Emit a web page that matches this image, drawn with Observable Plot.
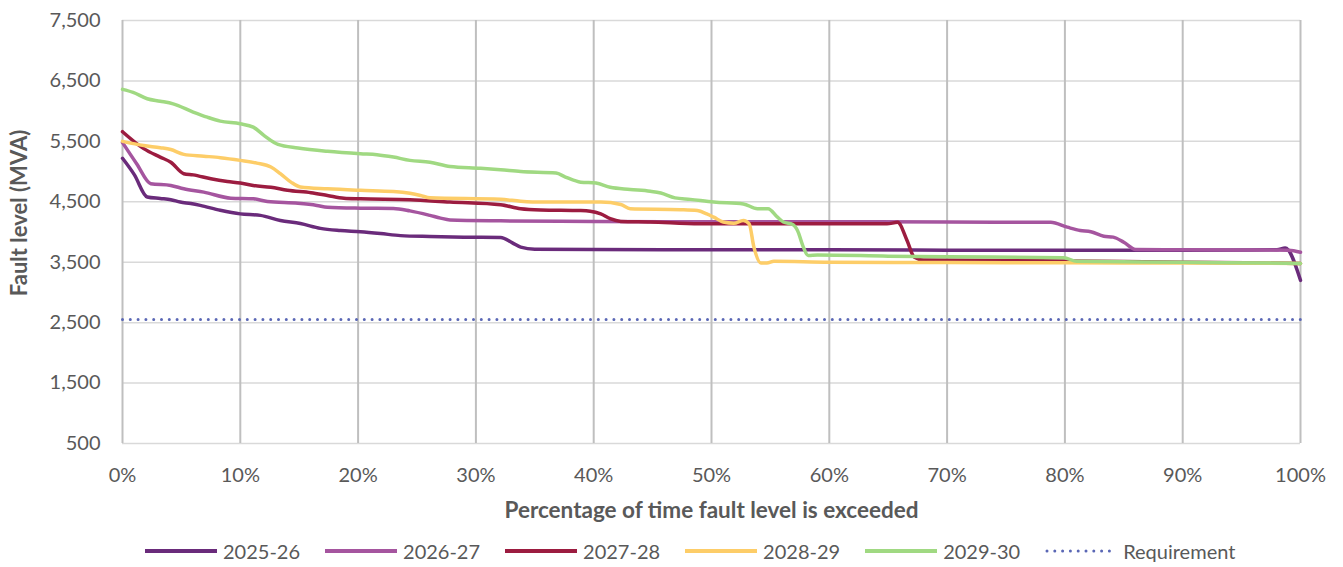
<!DOCTYPE html>
<html>
<head>
<meta charset="utf-8">
<script src="https://cdn.jsdelivr.net/npm/d3@7"></script>
<script src="https://cdn.jsdelivr.net/npm/@observablehq/plot@0.6"></script>
<style>
  html, body { margin: 0; padding: 0; background: #fff; }
  #chart svg { display: block; }
  .legend { display: flex; align-items: center; height: 32px; padding-left: 145px; font-family: Lato, sans-serif; font-size: 20px; color: #595959; }
  .legend .item { display: flex; align-items: center; margin-right: 25px; }
  .legend svg { margin-right: 6px; }
</style>
</head>
<body>
<div id="chart"></div>
<div class="legend" id="legend"></div>
<script>
const seriesNames = ["2025-26", "2026-27", "2027-28", "2028-29", "2029-30"];
const seriesColors = ["#6a2b7b", "#a5559f", "#9c1c40", "#fdcd68", "#a0d982"];
const requirementColor = "#5a67b5";

const x2025 = [0, 1, 2.1, 3.2, 4.1, 4.9, 5.8, 6.6, 8.3, 10, 11.7, 13.4, 15.1, 16.8, 18.5, 20.2, 21.9, 23.6, 26.1, 29, 32.1, 33.1, 33.8, 35, 40, 50, 60, 70, 80, 90, 98, 98.7, 100];
const y2025 = [5220, 4950, 4580, 4555, 4535, 4495, 4470, 4440, 4360, 4300, 4275, 4190, 4140, 4060, 4025, 4005, 3975, 3940, 3925, 3915, 3910, 3820, 3750, 3715, 3710, 3705, 3705, 3700, 3700, 3700, 3705, 3735, 3200];

const x2026 = [0, 1.2, 2.4, 4.1, 5.2, 6.9, 9.2, 11.1, 12.3, 14.9, 16.5, 17.4, 20.2, 23, 24.4, 26.1, 27, 27.8, 32.1, 40, 50, 60, 70, 78.8, 80.2, 81.3, 82.2, 83.3, 84.1, 85, 86, 90, 99, 100];
const y2026 = [5480, 5130, 4800, 4770, 4715, 4660, 4560, 4550, 4505, 4475, 4440, 4410, 4395, 4390, 4350, 4275, 4230, 4200, 4185, 4175, 4170, 4170, 4165, 4160, 4080, 4025, 4005, 3930, 3915, 3830, 3710, 3705, 3700, 3665];

const x2027 = [0, 1.8, 3.2, 4.1, 5.2, 6, 7.5, 8.9, 10, 11.1, 12.6, 14, 16, 17.4, 18.8, 20.2, 24.4, 27.8, 32.1, 33.8, 35.5, 38.9, 39.7, 40.6, 41.4, 42.3, 44.8, 49, 55, 60, 64.9, 65.8, 66.6, 67.2, 68, 75, 80, 90, 100];
const y2027 = [5660, 5380, 5240, 5155, 4965, 4945, 4880, 4835, 4810, 4770, 4740, 4690, 4650, 4605, 4560, 4550, 4535, 4495, 4450, 4385, 4365, 4355, 4345, 4300, 4220, 4175, 4165, 4135, 4135, 4135, 4135, 4160, 3860, 3585, 3535, 3530, 3520, 3500, 3480];

const x2028 = [0, 1.8, 3.2, 4.1, 5.2, 6.9, 8.3, 10, 11.4, 12.6, 13.4, 14.3, 15.1, 17.4, 20.2, 23, 24.4, 25.3, 26.1, 32.1, 33.8, 35.5, 40.6, 42.3, 43.1, 47.4, 48.8, 49.6, 50.2, 51, 51.9, 52.7, 53.2, 53.6, 54.2, 54.7, 55.3, 60, 70, 80, 90, 100];
const y2028 = [5500, 5430, 5395, 5365, 5285, 5255, 5230, 5185, 5140, 5075, 4965, 4825, 4745, 4715, 4690, 4670, 4640, 4605, 4565, 4540, 4510, 4495, 4495, 4455, 4385, 4370, 4355, 4300, 4245, 4165, 4145, 4190, 4135, 3750, 3485, 3485, 3515, 3500, 3495, 3490, 3485, 3480];

const x2029 = [0, 0.9, 2.1, 3.2, 4.3, 6, 7.2, 8.3, 10, 11.1, 12, 13.2, 14.9, 17.4, 20.2, 21.6, 23, 24.4, 26.1, 27.8, 30.4, 32.1, 33.8, 36.8, 37.6, 38.9, 40.2, 41.4, 43.1, 44.8, 45.7, 46.9, 48.2, 50.2, 52.7, 53.9, 54.8, 55.6, 56.1, 56.9, 57.3, 57.8, 58.2, 59, 65, 70, 79.9, 81, 90, 100];
const y2029 = [6360, 6310, 6205, 6165, 6120, 5985, 5900, 5835, 5790, 5735, 5600, 5450, 5390, 5335, 5295, 5280, 5240, 5185, 5155, 5085, 5055, 5030, 5000, 4975, 4910, 4825, 4810, 4740, 4705, 4675, 4645, 4565, 4540, 4495, 4465, 4385, 4385, 4245, 4165, 4125, 4025, 3750, 3610, 3620, 3600, 3590, 3575, 3515, 3500, 3480];

const requirementX = [0, 100];
const requirementValue = 2550;

const xTicks = [0, 10, 20, 30, 40, 50, 60, 70, 80, 90, 100];
const yTicks = [500, 1500, 2500, 3500, 4500, 5500, 6500, 7500];
const xTitle = "Percentage of time fault level is exceeded";
const yTitle = "Fault level (MVA)";

const seriesX = [x2025, x2026, x2027, x2028, x2029];
const seriesY = [y2025, y2026, y2027, y2028, y2029];
const seriesData = seriesNames.map((name, i) => seriesX[i].map((x, j) => ({series: name, x, y: seriesY[i][j]})));
const requirementData = requirementX.map(x => ({x, y: requirementValue}));

const font = "Lato, 'Open Sans', sans-serif";
const textColor = "#595959";

const chart = Plot.plot({
  width: 1343,
  height: 535,
  marginLeft: 122,
  marginRight: 43,
  marginTop: 20,
  marginBottom: 92,
  style: {fontFamily: font, fontSize: "20px", color: textColor, background: "#fff"},
  x: {domain: [0, 100]},
  y: {domain: [500, 7500]},
  marks: [
    Plot.gridY(yTicks, {stroke: "#d9d9d9", strokeOpacity: 1, strokeWidth: 1.5}),
    Plot.gridX(xTicks, {stroke: "#bfbfbf", strokeOpacity: 1, strokeWidth: 2}),
    Plot.axisY(yTicks, {tickSize: 0, tickPadding: 22, tickFormat: d3.format(","), label: null, fontSize: 20, fill: textColor}),
    Plot.axisX(xTicks, {tickSize: 0, tickPadding: 24, tickFormat: d => d + "%", label: null, fontSize: 20, fill: textColor}),
    Plot.line(requirementData, {x: "x", y: "y", stroke: requirementColor, strokeWidth: 3, strokeDasharray: "0 7.8", strokeLinecap: "round"}),
    ...seriesData.map((d, i) => Plot.line(d, {x: "x", y: "y", stroke: seriesColors[i], strokeWidth: 3.5, curve: "monotone-x"})),
    Plot.text([xTitle], {frameAnchor: "bottom", dy: 74, text: d => d, fontWeight: "bold", fontSize: 22.5, fill: textColor}),
    Plot.text([yTitle], {frameAnchor: "left", dx: -103, dy: -19, rotate: -90, textAnchor: "middle", text: d => d, fontWeight: "bold", fontSize: 22, fill: textColor})
  ]
});
document.getElementById("chart").appendChild(chart);

const legend = document.getElementById("legend");
const legendItems = seriesNames.map((n, i) => ({name: n, color: seriesColors[i], dash: null}))
  .concat([{name: "Requirement", color: requirementColor, dash: "0 7.8"}]);
for (const it of legendItems) {
  const item = document.createElement("div");
  item.className = "item";
  item.innerHTML = `<svg width="72" height="10"><line x1="${it.dash ? 2 : 0}" x2="72" y1="5" y2="5" stroke="${it.color}" stroke-width="${it.dash ? 3 : 4}" ${it.dash ? `stroke-dasharray="${it.dash}" stroke-linecap="round"` : ""}/></svg><span>${it.name}</span>`;
  legend.appendChild(item);
}
</script>
</body>
</html>
